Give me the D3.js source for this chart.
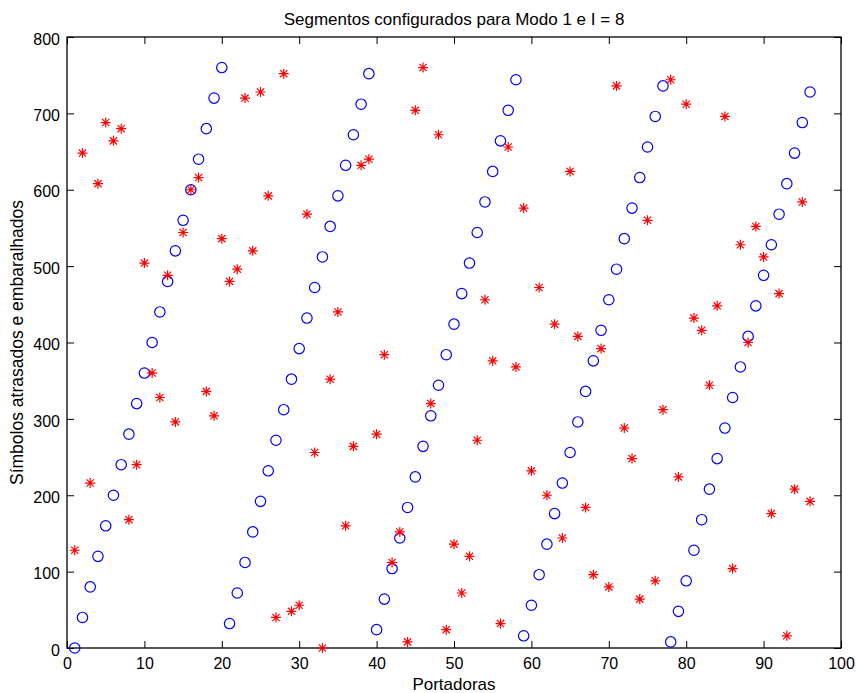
<!DOCTYPE html>
<html>
<head>
<meta charset="utf-8">
<script src="https://cdn.jsdelivr.net/npm/d3@7"></script>
<style>
    body { margin: 0; background: #fff; }
    svg text { font-family: "Liberation Sans", Arial, sans-serif; fill: #000; }
</style>
</head>
<body>
<svg id="chart" width="856" height="693"></svg>
<script>
// portadoras 1..96
let carriers = [
    1, 2, 3, 4, 5, 6, 7, 8, 9, 10, 11, 12, 13, 14, 15, 16, 17, 18, 19, 20,
    21, 22, 23, 24, 25, 26, 27, 28, 29, 30, 31, 32, 33, 34, 35, 36, 37, 38, 39, 40,
    41, 42, 43, 44, 45, 46, 47, 48, 49, 50, 51, 52, 53, 54, 55, 56, 57, 58, 59, 60,
    61, 62, 63, 64, 65, 66, 67, 68, 69, 70, 71, 72, 73, 74, 75, 76, 77, 78, 79, 80,
    81, 82, 83, 84, 85, 86, 87, 88, 89, 90, 91, 92, 93, 94, 95, 96
];
// simbolos atrasados (circulos azuis)
let delayed = [
    0, 40, 80, 120, 160, 200, 240, 280, 320, 360, 400, 440, 480, 520, 560, 600, 640, 680, 720, 760,
    32, 72, 112, 152, 192, 232, 272, 312, 352, 392, 432, 472, 512, 552, 592, 632, 672, 712, 752,
    24, 64, 104, 144, 184, 224, 264, 304, 344, 384, 424, 464, 504, 544, 584, 624, 664, 704, 744,
    16, 56, 96, 136, 176, 216, 256, 296, 336, 376, 416, 456, 496, 536, 576, 616, 656, 696, 736,
    8, 48, 88, 128, 168, 208, 248, 288, 328, 368, 408, 448, 488, 528, 568, 608, 648, 688, 728
];
// simbolos embaralhados (asteriscos vermelhos)
let shuffled = [
    128, 648, 216, 608, 688, 664, 680, 168, 240, 504, 360, 328, 488, 296, 544, 600, 616, 336, 304, 536,
    480, 496, 720, 520, 728, 592, 40, 752, 48, 56, 568, 256, 0, 352, 440, 160, 264, 632, 640, 280,
    384, 112, 152, 8, 704, 760, 320, 672, 24, 136, 72, 120, 272, 456, 376, 32, 656, 368, 576, 232,
    472, 200, 424, 144, 624, 408, 184, 96, 392, 80, 736, 288, 248, 64, 560, 88, 312, 744, 224, 712,
    432, 416, 344, 448, 696, 104, 528, 400, 552, 512, 176, 464, 16, 208, 584, 192
];
let xTicks = [0, 10, 20, 30, 40, 50, 60, 70, 80, 90, 100];
let yTicks = [0, 100, 200, 300, 400, 500, 600, 700, 800];

let margin = { left: 67, right: 15, top: 37, bottom: 45 };
let width = 856, height = 693;
let svg = d3.select('#chart');

let x = d3.scaleLinear().domain([0, 100]).range([margin.left, width - margin.right]);
let y = d3.scaleLinear().domain([0, 800]).range([height - margin.bottom, margin.top]);

let tickLen = 7;

// eixos (ticks para dentro, estilo MATLAB)
svg.append('g')
    .attr('transform', `translate(0, ${y(0)})`)
    .call(d3.axisBottom(x).tickValues(xTicks).tickSize(-tickLen).tickPadding(10))
    .call((g) => g.select('.domain').remove());
svg.append('g')
    .attr('transform', `translate(0, ${y(800)})`)
    .call(d3.axisTop(x).tickValues(xTicks).tickSize(-tickLen).tickFormat(''))
    .call((g) => g.select('.domain').remove());
svg.append('g')
    .attr('class', 'yaxis')
    .attr('transform', `translate(${x(0)}, 0)`)
    .call(d3.axisLeft(y).tickValues(yTicks).tickSize(-tickLen).tickPadding(7))
    .call((g) => g.select('.domain').remove());
svg.append('g')
    .attr('transform', `translate(${x(100)}, 0)`)
    .call(d3.axisRight(y).tickValues(yTicks).tickSize(-tickLen).tickFormat(''))
    .call((g) => g.select('.domain').remove());

svg.selectAll('.tick line').attr('stroke', '#000').attr('stroke-width', 1);
svg.selectAll('.tick text').style('font-size', '16px');
svg.selectAll('.yaxis .tick text').attr('dy', '0.45em');

svg.append('rect')
    .attr('x', x(0))
    .attr('y', y(800))
    .attr('width', x(100) - x(0))
    .attr('height', y(0) - y(800))
    .attr('fill', 'none')
    .attr('stroke', '#000')
    .attr('stroke-width', 1.3);

// circulos
svg.append('g')
    .selectAll('circle')
    .data(carriers)
    .enter()
    .append('circle')
    .attr('cx', (d) => x(d))
    .attr('cy', (d, i) => y(delayed[i]))
    .attr('r', 5.2)
    .attr('fill', 'none')
    .attr('stroke', '#0000ff')
    .attr('stroke-width', 1.2);

// asteriscos
let s = 5, sd = 3.6;
let starPath = `M${-s},0L${s},0M0,${-s}L0,${s}M${-sd},${-sd}L${sd},${sd}M${-sd},${sd}L${sd},${-sd}`;
svg.append('g')
    .selectAll('path')
    .data(carriers)
    .enter()
    .append('path')
    .attr('transform', (d, i) => `translate(${x(d)}, ${y(shuffled[i])})`)
    .attr('d', starPath)
    .attr('fill', 'none')
    .attr('stroke', '#ff0000')
    .attr('stroke-width', 1.2);

// textos
svg.append('text')
    .attr('x', (x(0) + x(100)) / 2)
    .attr('y', 25)
    .attr('text-anchor', 'middle')
    .style('font-size', '17px')
    .text('Segmentos configurados para Modo 1 e I = 8');
svg.append('text')
    .attr('x', (x(0) + x(100)) / 2)
    .attr('y', 690)
    .attr('text-anchor', 'middle')
    .style('font-size', '17px')
    .text('Portadoras');
svg.append('text')
    .attr('transform', `translate(23, ${(y(0) + y(800)) / 2}) rotate(-90)`)
    .attr('text-anchor', 'middle')
    .style('font-size', '17.5px')
    .text('Símbolos atrasados e embaralhados');
</script>
</body>
</html>
